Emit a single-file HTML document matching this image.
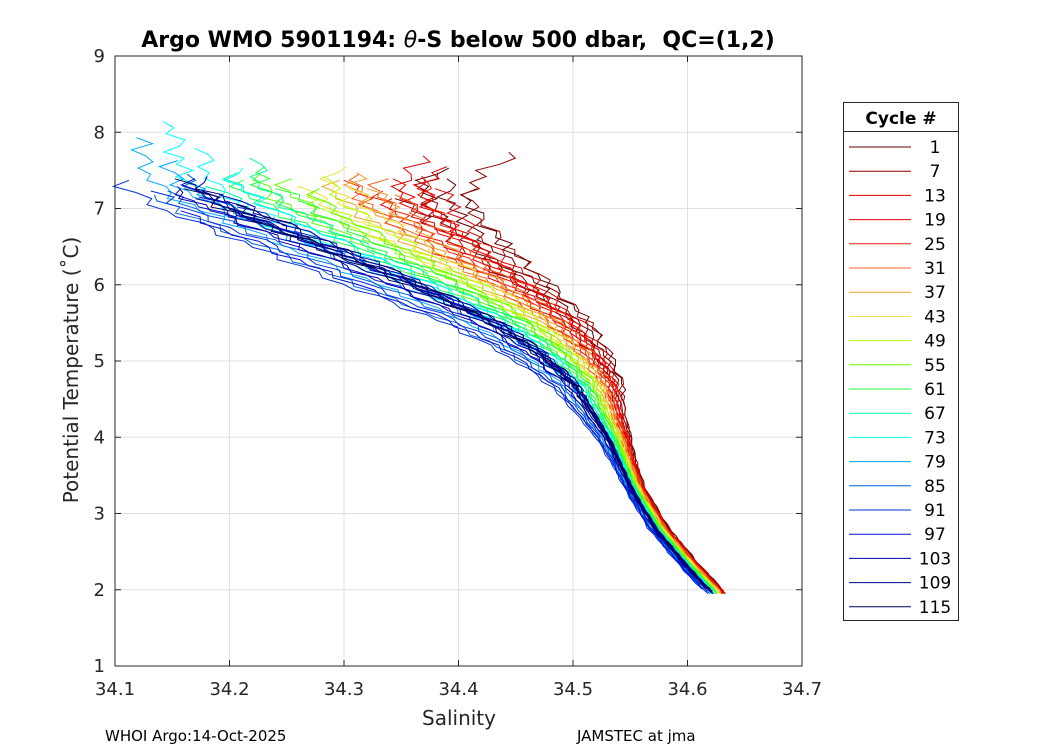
<!DOCTYPE html>
<html><head><meta charset="utf-8"><style>
body{margin:0;background:#fff;font-family:"DejaVu Sans",sans-serif}
</style></head><body>
<svg id="c" width="1050" height="750" xmlns="http://www.w3.org/2000/svg" font-family="DejaVu Sans, Liberation Sans, sans-serif">
<rect width="1050" height="750" fill="#fff"/>
<text x="458" y="47" text-anchor="middle" font-size="22" font-weight="bold" xml:space="preserve">Argo WMO 5901194: <tspan font-style="italic" font-weight="normal">θ</tspan>-S below 500 dbar,  QC=(1,2)</text>
<g id="grid"></g><g id="marks"></g><g id="axes"></g>
<text x="459" y="725" text-anchor="middle" font-size="20" fill="#262626">Salinity</text>
<text transform="translate(78,370) rotate(-90)" text-anchor="middle" font-size="20" fill="#262626">Potential Temperature (˚C)</text>
<text x="105" y="741" font-size="15">WHOI Argo:14-Oct-2025</text>
<text x="577" y="741" font-size="15">JAMSTEC at jma</text>
<g id="legend"></g>
</svg>
<script>
const xTicks=[34.1,34.2,34.3,34.4,34.5,34.6,34.7];
const yTicks=[1,2,3,4,5,6,7,8,9];
const legendCycles=[1,7,13,19,25,31,37,43,49,55,61,67,73,79,85,91,97,103,109,115];
const legendColors=["#600000","#900000","#e00000","#f00000","#f02000","#f06020","#f0a030","#f0e040","#b0ff00","#60ff00","#20ff40","#00ffa0","#00ffff","#00a8ff","#0060e0","#0030e0","#0010d0","#0000b0","#000090","#000060"];
const baseT=[1.9,2.3,2.8,3.3,4.0,4.7,5.1,5.5,6.0,6.5,7.0,7.3,7.6,8.0];
const baseS=[34.625,34.6,34.572,34.552,34.53,34.5,34.47,34.43,34.36,34.28,34.2,34.165,34.155,34.15];
const groupOffsets=[[0.11,0.12,0.1],[0.1,0.12,0.09],[0.1,0.11,0.09],[0.09,0.1,0.08],[0.08,0.1,0.07],[0.08,0.09,0.07],[0.07,0.08,0.06],[0.06,0.07,0.05],[0.05,0.06,0.045],[0.04,0.05,0.03],[0.03,0.04,0.02],[0.02,0.03,0.01],[0.01,0.0,0.02],[-0.01,0.0,-0.03],[-0.03,-0.05,0.0],[-0.04,0.01,-0.06],[0,-0.02,-0.05],[0.0,0.01,-0.02],[0,0.005,-0.01],[0,-0.005,0.01]];
const groupTops=[[7.4,7.3,7.6],[7.5,7.8,7.2],[7.6,7.3,7.7],[7.4,7.5,7.2],[7.3,7.5,7.4],[7.4,7.2,7.5],[7.5,7.3,7.4],[7.6,7.4,7.3],[7.3,7.5,7.2],[7.4,7.3,7.5],[7.6,7.3,7.4],[7.5,7.7,7.3],[7.8,8.2,7.6],[7.7,7.4,8.0],[7.3,7.2,7.5],[7.3,7.1,7.4],[7.2,7.3,7.0],[7.4,7.2,7.3],[7.3,7.5,7.2],[7.4,7.3,7.1]];
const wiggle=[0.3,-0.8,1.0,-0.2,0.6,-1.0,0.4,0.9,-0.5,0.1,-0.7,0.8];
const X0=115,X1=802,Y0=666,Y1=56;
const sx=s=>X0+(s-34.1)/0.6*(X1-X0);
const sy=t=>Y0-(t-1)/8*(Y0-Y1);
const NS="http://www.w3.org/2000/svg";
function mk(tag,attrs,parent){const e=document.createElementNS(NS,tag);for(const k in attrs)e.setAttribute(k,attrs[k]);parent.appendChild(e);return e;}
const grid=document.getElementById('grid'),axes=document.getElementById('axes'),marks=document.getElementById('marks'),leg=document.getElementById('legend');
xTicks.forEach(v=>{const x=sx(v);
 const l=mk('line',{x1:x,x2:x,y1:Y1,y2:Y0,stroke:'#e0e0e0'},grid);
 
 const t=mk('text',{x:x,y:Y0+29,'text-anchor':'middle','font-size':18,fill:'#262626'},axes);t.textContent=v.toFixed(1);
 
 mk('line',{x1:x,x2:x,y1:Y0,y2:Y0-6,stroke:'#262626'},axes);mk('line',{x1:x,x2:x,y1:Y1,y2:Y1+6,stroke:'#262626'},axes);});
yTicks.forEach(v=>{const y=sy(v);
 const l=mk('line',{x1:X0,x2:X1,y1:y,y2:y,stroke:'#e0e0e0'},grid);
 
 const t=mk('text',{x:X0-10,y:y+6,'text-anchor':'end','font-size':18,fill:'#262626'},axes);t.textContent=v;
 
 mk('line',{x1:X0,x2:X0+6,y1:y,y2:y,stroke:'#262626'},axes);mk('line',{x1:X1,x2:X1-6,y1:y,y2:y,stroke:'#262626'},axes);});
const box=mk('rect',{x:X0,y:Y1,width:X1-X0,height:Y0-Y1,fill:'none',stroke:'#262626'},axes);

function base(t){if(t<=baseT[0])return baseS[0];for(let i=1;i<baseT.length;i++){if(t<=baseT[i]){const f=(t-baseT[i-1])/(baseT[i]-baseT[i-1]);return baseS[i-1]+f*(baseS[i]-baseS[i-1]);}}return baseS[baseS.length-1];}
groupOffsets.forEach((offs,g)=>{offs.forEach((off,k)=>{
 const top=groupTops[g][k];const pts=[];let i=0;
 for(let t=1.95+0.03*k;t<=top;t+=0.08,i++){
  let w=0.1+0.9*Math.pow(Math.max(0,t-3.2),2)/7.84;
  if(off<0)w=Math.min(w,1);
  let s=base(t)+off*w;
  const amp=t>4.5?0.0025*(t-3.5):0.001;
  s+=wiggle[(i+g*3+k*5)%12]*amp;
  pts.push(sx(s).toFixed(1)+','+sy(t).toFixed(1));}
 const p=mk('polyline',{points:pts.join(' '),fill:'none',stroke:legendColors[g],'stroke-width':1},marks);
 
 
});});
const lb=mk('rect',{x:843.5,y:102.5,width:115,height:518,fill:'#fff',stroke:'#262626'},leg);

mk('line',{x1:843,x2:958,y1:131.5,y2:131.5,stroke:'#262626'},leg);
const lt=mk('text',{x:901,y:124,'text-anchor':'middle','font-size':17,'font-weight':'bold'},leg);lt.textContent='Cycle #';

legendCycles.forEach((c,i)=>{const y=147+i*24.2;
 const g=mk('g',{},leg);
 
 mk('line',{x1:849,x2:911,y1:y,y2:y,stroke:legendColors[i],'stroke-width':1},g);
 const t=mk('text',{x:935,y:y+6,'text-anchor':'middle','font-size':17},g);t.textContent=c;});
</script>
</body></html>
